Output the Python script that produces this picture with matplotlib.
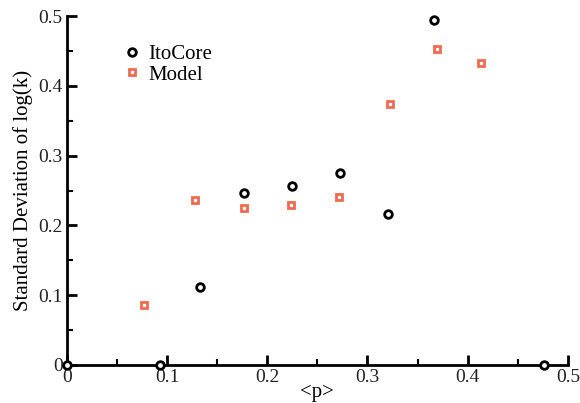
import matplotlib
matplotlib.use("Agg")
import matplotlib.pyplot as plt
import numpy as np

plt.rcParams['font.family'] = ['Liberation Serif', 'DejaVu Serif']

# ItoCore data
ito_x = [0.0, 0.093, 0.133, 0.177, 0.225, 0.273, 0.320, 0.366, 0.476]
ito_y = [0.0, 0.0, 0.112, 0.246, 0.256, 0.275, 0.216, 0.494, 0.0]

# Model data
model_x = [0.077, 0.128, 0.177, 0.224, 0.272, 0.322, 0.369, 0.413]
model_y = [0.086, 0.236, 0.225, 0.229, 0.241, 0.374, 0.453, 0.433]

major_ticks = [0.0, 0.1, 0.2, 0.3, 0.4, 0.5]
minor_ticks = [0.05, 0.15, 0.25, 0.35, 0.45]
tick_labels = ['0', '0.1', '0.2', '0.3', '0.4', '0.5']

orange = '#f26a4f'

fig = plt.figure(figsize=(5.8, 4.03), dpi=100)
ax = fig.add_axes([0.1155, 0.0943, 0.8635, 0.8657])

ax.plot(ito_x, ito_y, linestyle='none', marker='o', markersize=5.5,
        markerfacecolor='white', markeredgecolor='black', markeredgewidth=2,
        label='ItoCore', clip_on=False, zorder=5)
ax.plot(model_x, model_y, linestyle='none', marker='s', markersize=5,
        markerfacecolor='white', markeredgecolor=orange, markeredgewidth=2,
        label='Model', clip_on=False, zorder=4)

ax.set_xlim(0, 0.5)
ax.set_ylim(0, 0.5)
ax.set_xticks(major_ticks)
ax.set_xticks(minor_ticks, minor=True)
ax.set_yticks(major_ticks)
ax.set_yticks(minor_ticks, minor=True)
ax.set_xticklabels(tick_labels)
ax.set_yticklabels(tick_labels)

ax.spines['right'].set_color('none')
ax.spines['top'].set_color('none')
ax.spines['left'].set_linewidth(2)
ax.spines['bottom'].set_linewidth(2)
ax.tick_params(which='major', direction='in', length=7, width=2, labelsize=14,
               colors='black', labelcolor='#222222', pad=3)
ax.tick_params(which='minor', direction='in', length=4, width=1.5)

ax.set_xlabel('<p>', fontsize=15, labelpad=-2)
ax.set_ylabel('Standard Deviation of log(k)', fontsize=15, labelpad=4)

ax.legend(loc='upper left', bbox_to_anchor=(0.092, 0.943), frameon=False,
          fontsize=15, handletextpad=0.3, labelspacing=0.05, handlelength=1.0,
          borderaxespad=0)

fig.savefig('out.png', dpi=100)
